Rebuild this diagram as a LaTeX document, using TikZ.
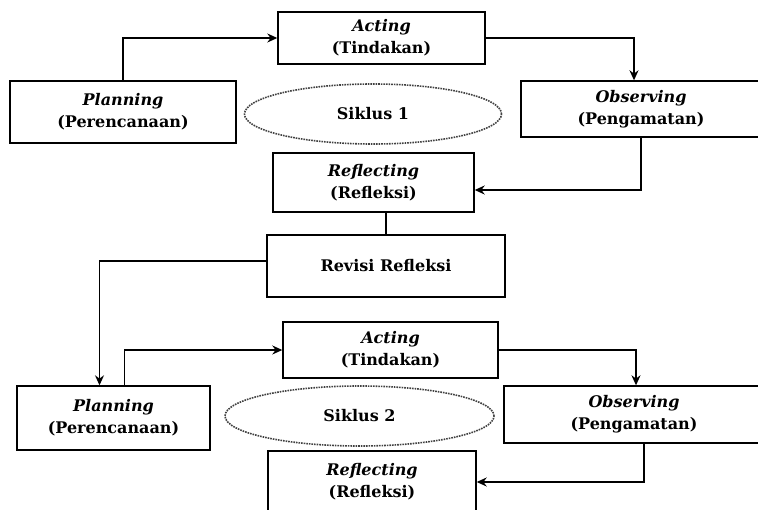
\documentclass[tikz,border=0pt]{standalone}
\usepackage{fontspec}
\setmainfont{DejaVu Serif}
\usetikzlibrary{shapes.geometric, arrows.meta}

\begin{document}
\begin{tikzpicture}[x=1pt, y=-1pt,
    stage/.style={draw, line width=1.4pt, align=center, inner sep=0pt,
      font=\fontsize{16}{22}\selectfont\bfseries},
    cycle/.style={draw=black!75, densely dotted, line width=1.6pt, ellipse,
      inner sep=0pt, font=\fontsize{16}{22}\selectfont\bfseries},
    flow/.style={line width=1.4pt, -{Stealth[length=10pt, width=9pt]}}]
    \useasboundingbox (0,0) rectangle (758,509);

    % siklus 1
    \node[stage, minimum width=207, minimum height=52] (a1) at (381.5,38) {\textit{Acting}\\(Tindakan)};
    \node[stage, minimum width=226, minimum height=62] (p1) at (123,112) {\textit{Planning}\\(Perencanaan)};
    \node[cycle, minimum width=257, minimum height=60] (s1) at (373,114) {Siklus 1};
    \node[stage, minimum width=240, minimum height=56] (o1) at (641,109) {\textit{Observing}\\(Pengamatan)};
    \node[stage, minimum width=201, minimum height=59] (r1) at (373.5,182.5) {\textit{Reflecting}\\(Refleksi)};

    \node[stage, minimum width=238, minimum height=62] (rv) at (386,266) {Revisi Refleksi};

    % siklus 2
    \node[stage, minimum width=215, minimum height=56] (a2) at (390.5,350) {\textit{Acting}\\(Tindakan)};
    \node[stage, minimum width=193, minimum height=64] (p2) at (113.5,418) {\textit{Planning}\\(Perencanaan)};
    \node[cycle, minimum width=269, minimum height=60] (s2) at (359.5,416) {Siklus 2};
    \node[stage, minimum width=260, minimum height=57] (o2) at (634,414.5) {\textit{Observing}\\(Pengamatan)};
    \node[stage, minimum width=208, minimum height=62] (r2) at (372,482) {\textit{Reflecting}\\(Refleksi)};

    \draw[flow] (p1.north) |- (a1.west);
    \draw[flow] (a1.east) -| ([xshift=-7pt]o1.north);
    \draw[flow] (o1.south) |- ([yshift=-7.5pt]r1.east);
    \draw[flow, -] (rv.north |- r1.south) -- (rv.north);
    \draw[flow] ([yshift=5pt]rv.west) -| ([xshift=-14pt]p2.north);
    \draw[flow] ([xshift=11pt]p2.north) |- (a2.west);
    \draw[flow] (a2.east) -| ([xshift=2pt]o2.north);
    \draw[flow] ([xshift=10pt]o2.south) |- (r2.east);
\end{tikzpicture}
\end{document}
